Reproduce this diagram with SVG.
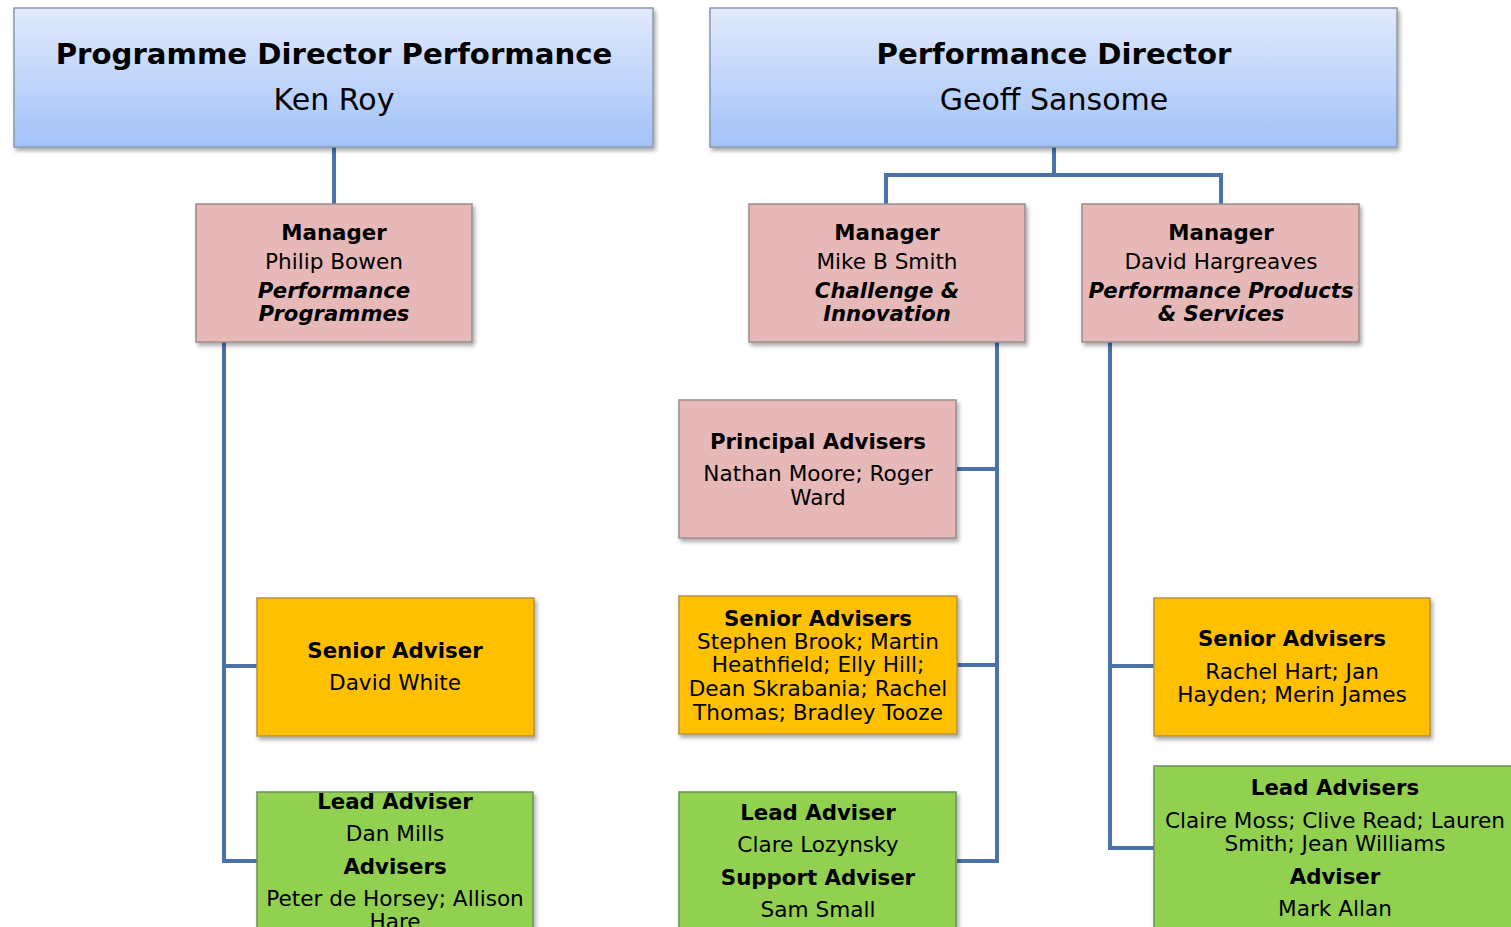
<svg xmlns="http://www.w3.org/2000/svg" width="1511" height="927" viewBox="0 0 1511 927">
<defs>
<linearGradient id="gBlue" x1="0" y1="0" x2="0" y2="1">
<stop offset="0" stop-color="#e2eafd"/>
<stop offset="1" stop-color="#a2c2f8"/>
</linearGradient>
<filter id="sh" x="-10%" y="-10%" width="120%" height="125%">
<feDropShadow dx="2" dy="3" stdDeviation="2" flood-color="#000" flood-opacity="0.35"/>
</filter>
</defs>
<style>
text{font-family:"DejaVu Sans","Liberation Sans",sans-serif;fill:#000;text-anchor:middle}
.t{font-size:29.2px;font-weight:bold}
.n{font-size:30px}
.b{font-size:21.3px;font-weight:bold}
.r{font-size:21.6px}
.bi{font-size:21.2px;font-weight:bold;font-style:italic}
.blue{fill:url(#gBlue);stroke:#8a98b0;stroke-width:1.5;filter:url(#sh)}
.pink{fill:#e6b8b7;stroke:#9a8c8c;stroke-width:1.5;filter:url(#sh)}
.gold{fill:#ffc000;stroke:#b5924a;stroke-width:1.5;filter:url(#sh)}
.green{fill:#92d050;stroke:#6f8f5a;stroke-width:1.5;filter:url(#sh)}
.c{fill:none;stroke:#4a72a8;stroke-width:4;stroke-linejoin:miter}
</style>
<rect width="1511" height="927" fill="#fff"/>
<g id="connectors">
<path class="c" d="M334 147V204"/>
<path class="c" d="M224 342V861H257M224 666H257"/>
<path class="c" d="M1054 147V175M886 204V175H1221V204"/>
<path class="c" d="M997 342V861H957M997 469H957M997 665H957"/>
<path class="c" d="M1110 342V848H1154M1110 666H1154"/>
</g>
<g id="pdp">
<rect class="blue" x="14" y="8" width="639" height="139"/>
<text class="t" x="334" y="64">Programme Director Performance</text>
<text class="n" x="334" y="110">Ken Roy</text>
</g>
<g id="pd">
<rect class="blue" x="710" y="8" width="687" height="139"/>
<text class="t" x="1054" y="64">Performance Director</text>
<text class="n" x="1054" y="110">Geoff Sansome</text>
</g>
<g id="mgr-bowen">
<rect class="pink" x="196" y="204" width="276" height="138"/>
<text class="b" x="334" y="240">Manager</text>
<text class="r" x="334" y="269">Philip Bowen</text>
<text class="bi" x="334" y="298">Performance</text>
<text class="bi" x="334" y="321">Programmes</text>
</g>
<g id="mgr-smith">
<rect class="pink" x="749" y="204" width="276" height="138"/>
<text class="b" x="887" y="240">Manager</text>
<text class="r" x="887" y="269">Mike B Smith</text>
<text class="bi" x="887" y="298">Challenge &amp;</text>
<text class="bi" x="887" y="321">Innovation</text>
</g>
<g id="mgr-hargreaves">
<rect class="pink" x="1082" y="204" width="277" height="138"/>
<text class="b" x="1221" y="240">Manager</text>
<text class="r" x="1221" y="269">David Hargreaves</text>
<text class="bi" x="1221" y="298">Performance Products</text>
<text class="bi" x="1221" y="321">&amp; Services</text>
</g>
<g id="principal">
<rect class="pink" x="679" y="400" width="277" height="138"/>
<text class="b" x="818" y="449">Principal Advisers</text>
<text class="r" x="818" y="481">Nathan Moore; Roger</text>
<text class="r" x="818" y="505">Ward</text>
</g>
<g id="senior-white">
<rect class="gold" x="257" y="598" width="277" height="138"/>
<text class="b" x="395" y="658">Senior Adviser</text>
<text class="r" x="395" y="690">David White</text>
</g>
<g id="senior-ci">
<rect class="gold" x="679" y="596" width="278" height="138"/>
<text class="b" x="818" y="626">Senior Advisers</text>
<text class="r" x="818" y="649">Stephen Brook; Martin</text>
<text class="r" x="818" y="672">Heathfield; Elly Hill;</text>
<text class="r" x="818" y="696">Dean Skrabania; Rachel</text>
<text class="r" x="818" y="720">Thomas; Bradley Tooze</text>
</g>
<g id="senior-pps">
<rect class="gold" x="1154" y="598" width="276" height="138"/>
<text class="b" x="1292" y="646">Senior Advisers</text>
<text class="r" x="1292" y="679">Rachel Hart; Jan</text>
<text class="r" x="1292" y="702">Hayden; Merin James</text>
</g>
<g id="lead-mills">
<rect class="green" x="257" y="792" width="276" height="150"/>
<text class="b" x="395" y="809">Lead Adviser</text>
<text class="r" x="395" y="841">Dan Mills</text>
<text class="b" x="395" y="874">Advisers</text>
<text class="r" x="395" y="906">Peter de Horsey; Allison</text>
<text class="r" x="395" y="929">Hare</text>
</g>
<g id="lead-lozynsky">
<rect class="green" x="679" y="792" width="277" height="150"/>
<text class="b" x="818" y="820">Lead Adviser</text>
<text class="r" x="818" y="852">Clare Lozynsky</text>
<text class="b" x="818" y="885">Support Adviser</text>
<text class="r" x="818" y="917">Sam Small</text>
</g>
<g id="lead-pps">
<rect class="green" x="1154" y="766" width="370" height="176"/>
<text class="b" x="1335" y="795">Lead Advisers</text>
<text class="r" x="1335" y="828">Claire Moss; Clive Read; Lauren</text>
<text class="r" x="1335" y="851">Smith; Jean Williams</text>
<text class="b" x="1335" y="884">Adviser</text>
<text class="r" x="1335" y="916">Mark Allan</text>
</g>
</svg>
